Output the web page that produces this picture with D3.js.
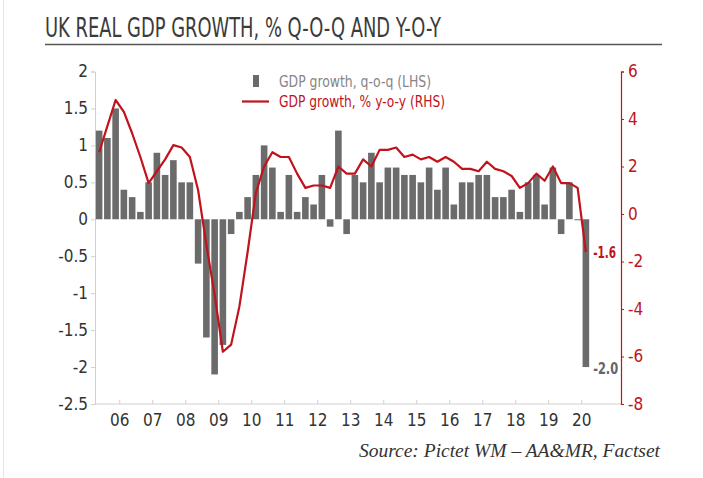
<!DOCTYPE html>
<html>
<head>
<meta charset="utf-8">
<script src="https://cdn.jsdelivr.net/npm/d3@7"></script>
<style>
  html, body { margin: 0; padding: 0; background: #fff; }
  svg { display: block; }
  .cond { font-family: "Liberation Sans Narrow", "DejaVu Sans Condensed", "Roboto", sans-serif; font-stretch: condensed; }
</style>
</head>
<body>
<svg id="chart" width="703" height="478"></svg>
<script>
// ---------- data ----------
const quarters = [];
(function(){ const s = [[2005,2],[2005,3],[2005,4]];
  s.forEach(d => quarters.push(d[0] + "Q" + d[1]));
  for (let y = 2006; y <= 2019; y++) for (let q = 1; q <= 4; q++) quarters.push(y + "Q" + q);
  quarters.push("2020Q1");
})();

const qoqGrowth = [
  1.2, 1.1, 1.5,
  0.4, 0.3, 0.1, 0.5,
  0.9, 0.6, 0.8, 0.5,
  0.5, -0.6, -1.6, -2.1,
  -1.7, -0.2, 0.1, 0.3,
  0.6, 1.0, 0.7, 0.1,
  0.6, 0.1, 0.3, 0.2,
  0.6, -0.1, 1.2, -0.2,
  0.6, 0.5, 0.9, 0.5,
  0.7, 0.7, 0.6, 0.6,
  0.5, 0.7, 0.4, 0.7,
  0.2, 0.5, 0.5, 0.6,
  0.6, 0.3, 0.3, 0.4,
  0.1, 0.5, 0.6, 0.2,
  0.7, -0.2, 0.5, 0.0,
  -2.0
];

const yoyGrowth = [
  2.6, 3.7, 4.8,
  4.3, 3.4, 2.4, 1.3,
  1.8, 2.3, 2.9, 2.8,
  2.4, 1.0, -1.3, -3.4,
  -5.8, -5.5, -3.9, -1.6,
  0.9, 2.0, 2.6, 2.4,
  2.4, 1.7, 1.1, 1.2,
  1.2, 1.1, 2.0, 1.7,
  1.7, 2.3, 2.0, 2.7,
  2.7, 2.8, 2.4, 2.5,
  2.3, 2.4, 2.2, 2.4,
  2.2, 1.9, 1.9, 1.8,
  2.2, 1.9, 1.8, 1.6,
  1.1, 1.3, 1.7, 1.4,
  2.0, 1.3, 1.3, 1.1,
  -1.6
];

const yearTickQuarters = ["2006Q1","2007Q1","2008Q1","2009Q1","2010Q1","2011Q1","2012Q1","2013Q1","2014Q1","2015Q1","2016Q1","2017Q1","2018Q1","2019Q1","2020Q1"];
const yearTickLabels = ["06","07","08","09","10","11","12","13","14","15","16","17","18","19","20"];
const leftTicks = [2, 1.5, 1, 0.5, 0, -0.5, -1, -1.5, -2, -2.5];
const rightTicks = [6, 4, 2, 0, -2, -4, -6, -8];

const titleText = "UK REAL GDP GROWTH, % Q-O-Q AND Y-O-Y";
const legendLabels = ["GDP growth, q-o-q (LHS)", "GDP growth, % y-o-y (RHS)"];
const sourceText = "Source: Pictet WM \u2013 AA&MR, Factset";
const lastQoqLabel = "-2.0";
const lastYoyLabel = "-1.6";

// ---------- layout ----------
const BAR = "#6b6b6b", RED = "#c0131c", TXT = "#333333";
const svg = d3.select("#chart");
const plotTop = 71.5, plotBottom = 404, plotLeft = 95, plotRight = 621;
const fmt = d => String(d).replace("\u2212", "-");

const x = d3.scaleBand().domain(quarters).range([95, 590]).paddingInner(0.2).paddingOuter(0.1);
const yL = d3.scaleLinear().domain([-2.5, 2]).range([plotBottom, plotTop]);
const yR = d3.scaleLinear().domain([-8, 6]).range([plotBottom, plotTop]);
const gapHalf = x.step() * x.paddingInner() / 2;

// faint page border
svg.append("line").attr("x1", 3.5).attr("x2", 3.5).attr("y1", 0).attr("y2", 478).attr("stroke", "#e6e6e6");

// title
svg.append("text").attr("class", "cond").attr("x", 45).attr("y", 37)
  .attr("font-size", 26).attr("fill", "#3b3b3b")
  .attr("textLength", 396).attr("lengthAdjust", "spacingAndGlyphs").text(titleText);
svg.append("line").attr("x1", 45).attr("x2", 662).attr("y1", 44.5).attr("y2", 44.5)
  .attr("stroke", "#555").attr("stroke-width", 1.6);

// left axis
const gL = svg.append("g").attr("transform", `translate(${plotLeft},0)`)
  .call(d3.axisLeft(yL).tickValues(leftTicks).tickSize(4).tickFormat(d => fmt(d)));
gL.select(".domain").attr("stroke", "#d0d0d0");
gL.selectAll(".tick line").attr("stroke", "#d0d0d0");
gL.selectAll(".tick text").attr("class", "cond").attr("font-size", 17).attr("fill", TXT).attr("x", -7);

// bottom axis
const gB = svg.append("g").attr("transform", `translate(0,${plotBottom})`);
gB.append("line").attr("x1", plotLeft).attr("x2", plotRight).attr("stroke", "#d0d0d0");
const xt = gB.selectAll(".xt").data(yearTickQuarters).enter().append("g")
  .attr("transform", d => `translate(${x(d) - gapHalf},0)`);
xt.append("line").attr("y1", 0).attr("y2", -4).attr("stroke", "#d0d0d0");
xt.append("text").attr("class", "cond").attr("y", 22).attr("text-anchor", "middle")
  .attr("font-size", 17).attr("fill", TXT).text((d, i) => yearTickLabels[i]);

// right axis
const gR = svg.append("g").attr("transform", `translate(${plotRight},0)`)
  .call(d3.axisRight(yR).tickValues(rightTicks).tickSize(3).tickFormat(d => fmt(d)));
gR.select(".domain").attr("stroke", RED).attr("stroke-width", 1.2);
gR.selectAll(".tick line").attr("stroke", RED);
gR.selectAll(".tick text").attr("class", "cond").attr("font-size", 17).attr("fill", RED).attr("x", 7);

// bars
svg.append("g").selectAll("rect").data(quarters).enter().append("rect")
  .attr("x", d => x(d))
  .attr("width", x.bandwidth())
  .attr("y", (d, i) => Math.min(yL(qoqGrowth[i]), yL(0)))
  .attr("height", (d, i) => Math.max(1, Math.abs(yL(qoqGrowth[i]) - yL(0))))
  .attr("fill", BAR);

// line
const line = d3.line().x((d, i) => x(quarters[i]) + x.bandwidth() / 2).y(d => yR(d));
svg.append("path").datum(yoyGrowth).attr("d", line)
  .attr("fill", "none").attr("stroke", RED).attr("stroke-width", 2.2).attr("stroke-linejoin", "round");

// end labels
const lastQ = quarters[quarters.length - 1];
svg.append("text").attr("class", "cond").attr("x", x(lastQ) + x.bandwidth() + 4)
  .attr("y", yR(yoyGrowth[yoyGrowth.length - 1]) + 6).attr("font-size", 15).attr("font-weight", "bold")
  .attr("textLength", 23).attr("lengthAdjust", "spacingAndGlyphs")
  .attr("fill", RED).text(lastYoyLabel);
svg.append("text").attr("class", "cond").attr("x", x(lastQ) + x.bandwidth() + 4)
  .attr("y", yL(qoqGrowth[qoqGrowth.length - 1]) + 7).attr("font-size", 15).attr("font-weight", "bold")
  .attr("textLength", 25).attr("lengthAdjust", "spacingAndGlyphs")
  .attr("fill", "#666").text(lastQoqLabel);

// legend
svg.append("rect").attr("x", 253).attr("y", 75).attr("width", 6).attr("height", 12).attr("fill", BAR);
svg.append("text").attr("class", "cond").attr("x", 279).attr("y", 87).attr("font-size", 16)
  .attr("textLength", 152).attr("lengthAdjust", "spacingAndGlyphs")
  .attr("fill", "#858585").text(legendLabels[0]);
svg.append("line").attr("x1", 242).attr("x2", 269).attr("y1", 101.5).attr("y2", 101.5)
  .attr("stroke", RED).attr("stroke-width", 2.2);
svg.append("text").attr("class", "cond").attr("x", 279).attr("y", 107).attr("font-size", 16)
  .attr("textLength", 166).attr("lengthAdjust", "spacingAndGlyphs")
  .attr("fill", RED).text(legendLabels[1]);

// source
svg.append("text").attr("x", 660).attr("y", 457).attr("text-anchor", "end")
  .attr("font-family", "'Liberation Serif', 'DejaVu Serif', serif").attr("font-style", "italic")
  .attr("font-size", 19.5).attr("fill", "#333").text(sourceText);
</script>
</body>
</html>
